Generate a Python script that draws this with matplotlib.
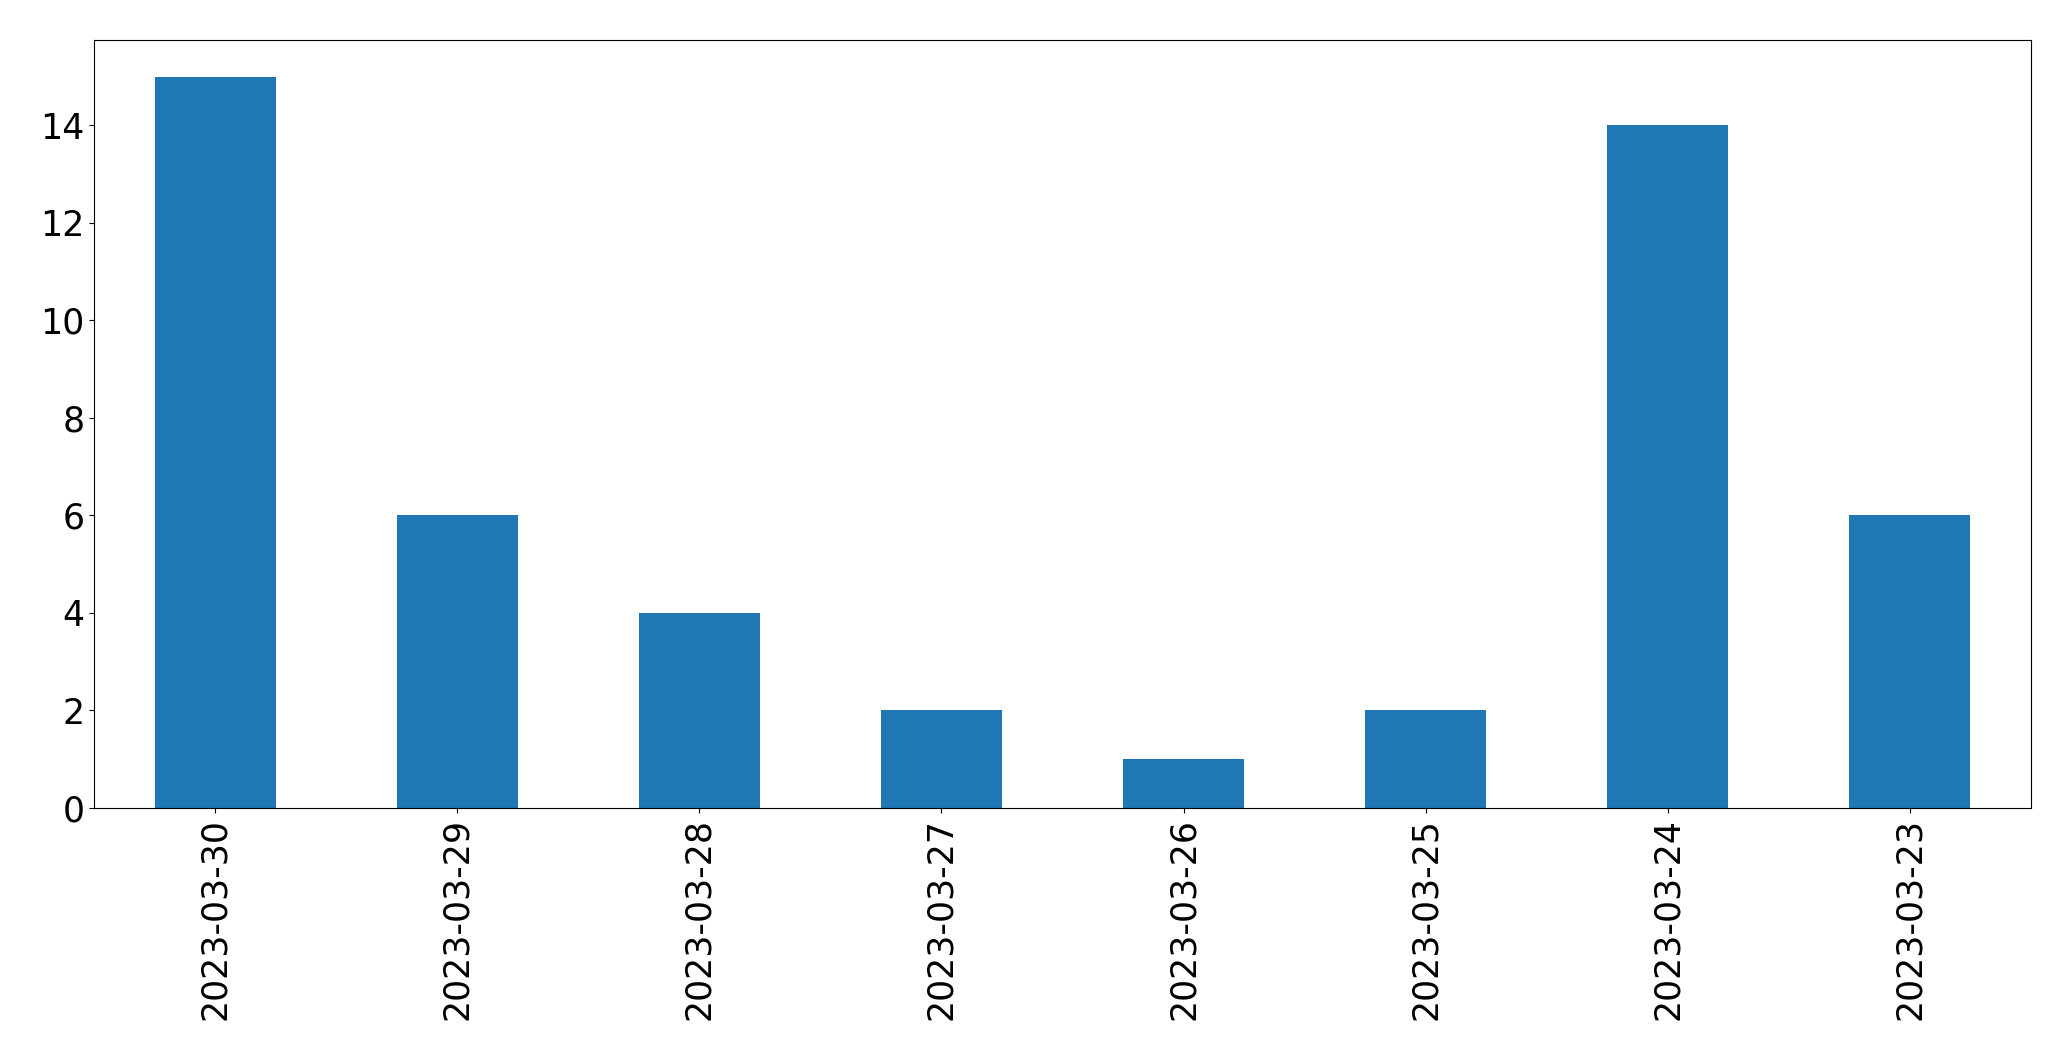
import matplotlib
matplotlib.use("Agg")
from matplotlib import pyplot as plt

dates = ["2023-03-30", "2023-03-29", "2023-03-28", "2023-03-27",
         "2023-03-26", "2023-03-25", "2023-03-24", "2023-03-23"]
counts = [15, 6, 4, 2, 1, 2, 14, 6]

fig = plt.figure(figsize=(20.71, 10.61), dpi=100)
ax = fig.add_axes([94 / 2071, 1 - 808 / 1061, (2031 - 94) / 2071, (808 - 40) / 1061])

pos = list(range(len(dates)))
ax.bar(pos, counts, width=0.5, color="#1f77b4")
ax.set_xlim(-0.5, len(dates) - 0.5)
ax.set_ylim(0, 15.75)
ax.set_xticks(pos)
ax.set_xticklabels(dates, rotation=90)
ax.tick_params(axis="both", labelsize=25)

fig.savefig("out.png", dpi=100)
